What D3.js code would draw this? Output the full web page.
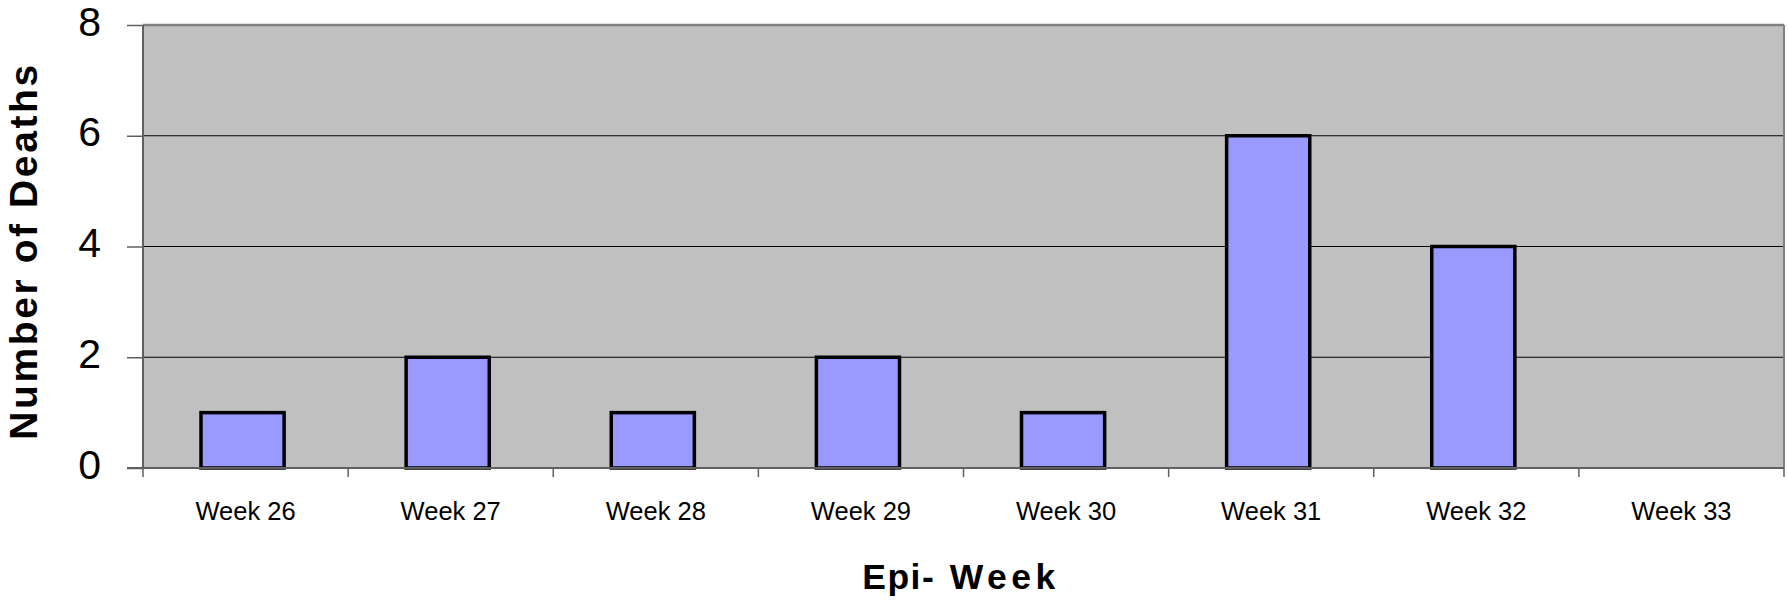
<!DOCTYPE html>
<html><head><meta charset="utf-8">
<script src="https://cdn.jsdelivr.net/npm/d3@7"></script>
<style>body{margin:0;background:#fff}svg{display:block}</style>
</head><body>
<script>
const categories = ["Week 26","Week 27","Week 28","Week 29","Week 30","Week 31","Week 32","Week 33"];
const deaths = [1,2,1,2,1,6,4,0];
const yTicks = [0,2,4,6,8];

const W = 1788, H = 604;
const m = {left:143, top:25, right:4, bottom:136};
const pw = W - m.left - m.right, ph = H - m.top - m.bottom;

const svg = d3.select("body").append("svg").attr("width",W).attr("height",H);
const g = svg.append("g").attr("transform",`translate(${m.left},${m.top})`);

const x = d3.scaleBand().domain(categories).range([0,pw]).paddingInner(0.585).paddingOuter(0.2925);
const xo = d3.scaleBand().domain(categories).range([0,pw]);
const y = d3.scaleLinear().domain([0,8]).range([ph,0]);

g.append("rect").attr("x",0).attr("y",0).attr("width",pw).attr("height",ph).attr("fill","#c0c0c0");

// gridlines
g.selectAll(".grid").data(yTicks.filter(d=>d>0&&d<8)).enter().append("line")
  .attr("x1",0).attr("x2",pw).attr("y1",d=>y(d)).attr("y2",d=>y(d))
  .attr("stroke","#000").attr("stroke-width",1);

// borders
g.append("line").attr("x1",0).attr("x2",pw).attr("y1",y(8)).attr("y2",y(8)).attr("stroke","#808080").attr("stroke-width",2.5);
g.append("line").attr("x1",pw).attr("x2",pw).attr("y1",0).attr("y2",ph).attr("stroke","#808080").attr("stroke-width",2);

// bars
g.selectAll(".bar").data(deaths.map((v,i)=>({c:categories[i],v})).filter(d=>d.v>0)).enter().append("rect")
  .attr("x",d=>x(d.c)-2).attr("width",x.bandwidth()-2)
  .attr("y",d=>y(d.v)).attr("height",d=>y(0)-y(d.v))
  .attr("fill","#9999ff").attr("stroke","#000").attr("stroke-width",3.5);

// y axis
const ya = g.append("g").call(d3.axisLeft(y).tickValues(yTicks).tickSize(16).tickPadding(26).tickFormat(d3.format("d")));
ya.select(".domain").attr("stroke","#606060").attr("stroke-width",2).attr("d",`M0,${ph}V0`);
ya.selectAll(".tick line").attr("stroke","#606060").attr("stroke-width",1.5);
ya.selectAll(".tick text").attr("font-family","'Liberation Sans', Arial, sans-serif").attr("font-size",41).attr("fill","#000").attr("dy","0.32em").attr("y",-3);

// x axis
const xa = g.append("g").attr("transform",`translate(0,${ph})`);
xa.append("line").attr("x1",-16).attr("x2",pw).attr("y1",0).attr("y2",0).attr("stroke","#606060").attr("stroke-width",2);
const bounds = categories.map(c=>xo(c)).concat([pw]);
xa.selectAll(".xt").data(bounds).enter().append("line")
  .attr("x1",d=>d).attr("x2",d=>d).attr("y1",0).attr("y2",9).attr("stroke","#606060").attr("stroke-width",1.5);
xa.selectAll(".xl").data(categories).enter().append("text")
  .attr("x",d=>xo(d)+xo.bandwidth()/2).attr("y",52)
  .attr("text-anchor","middle").attr("font-family","'Liberation Sans', Arial, sans-serif").attr("font-size",25.5).attr("fill","#000")
  .text(d=>d);

// titles
const xt = svg.append("text").attr("x",961).attr("y",589).attr("text-anchor","middle")
  .attr("font-family","'Liberation Sans', Arial, sans-serif").attr("font-weight","bold").attr("font-size",35.5);
xt.append("tspan").attr("letter-spacing",1.5).text("Epi-");
xt.append("tspan").attr("letter-spacing",4.5).text(" Week");
svg.append("text").attr("transform","translate(37,251) rotate(-90)").attr("text-anchor","middle")
  .attr("font-family","'Liberation Sans', Arial, sans-serif").attr("font-weight","bold").attr("font-size",39)
  .attr("letter-spacing",2.6).text("Number of Deaths");
</script>
</body></html>
